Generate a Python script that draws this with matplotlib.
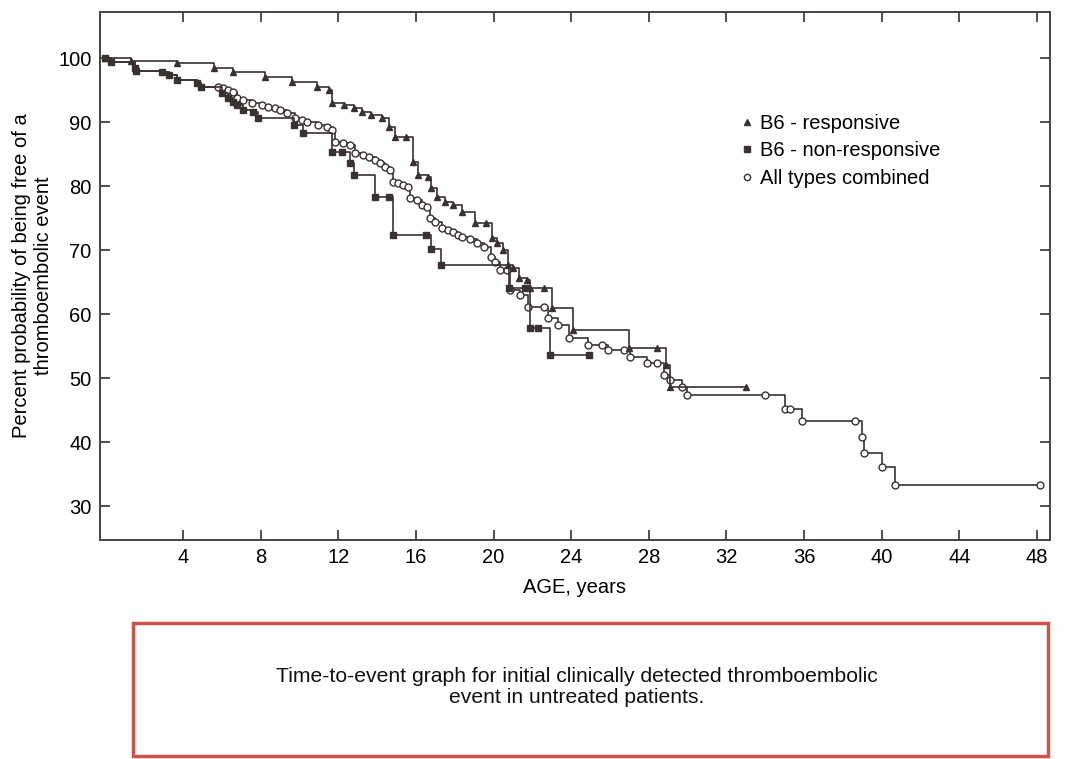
import matplotlib
matplotlib.use("Agg")
import matplotlib.pyplot as plt
from matplotlib.lines import Line2D
from matplotlib.patches import Rectangle

plt.rcParams["font.family"] = ["Liberation Sans", "DejaVu Sans"]

# B6 - responsive (triangles)
resp_age = [0, 1.3, 3.7, 5.6, 6.6, 8.2, 9.6, 10.9, 11.5, 11.7, 12.3, 12.8, 13.2,
            13.7, 14.25, 14.6, 14.9, 15.5, 15.85, 16.1, 16.6, 16.8, 17.1, 17.5,
            17.9, 18.4, 19.05, 19.6, 19.9, 20.2, 20.5, 20.75, 21.0, 21.3, 21.7,
            21.9, 22.6, 23.0, 24.1, 27.0, 28.4, 28.9, 29.1, 33.0]
resp_pct = [100, 99.5, 99.2, 98.4, 97.8, 97.0, 96.3, 95.5, 95.0, 93.0, 92.7, 92.2,
            91.6, 91.1, 90.6, 89.2, 87.7, 87.7, 83.75, 81.7, 81.4, 79.7, 78.3,
            77.5, 77.0, 75.9, 74.2, 74.2, 71.9, 71.1, 70.0, 67.7, 67.2, 65.6,
            65.3, 64.1, 64.1, 60.9, 57.5, 54.7, 54.7, 52.0, 48.6, 48.6]

# B6 - non-responsive (squares)
nonr_age = [0, 0.3, 1.5, 1.6, 2.9, 3.3, 3.7, 4.7, 4.9, 6.0, 6.3, 6.6, 6.8, 7.1,
            7.6, 7.85, 9.7, 10.2, 11.7, 12.2, 12.6, 12.8, 13.9, 14.6, 14.8, 16.5,
            16.8, 17.3, 20.8, 21.6, 21.9, 22.3, 22.9, 24.9]
nonr_pct = [100, 99.4, 98.4, 98.0, 97.8, 97.3, 96.6, 96.1, 95.5, 94.5, 93.75, 93.1,
            92.7, 91.9, 91.6, 90.6, 89.5, 88.3, 85.3, 85.3, 83.6, 81.7, 78.3, 78.3,
            72.3, 72.3, 70.2, 67.7, 64.1, 64.1, 57.8, 57.8, 53.6, 53.6]

# All types combined (open circles); the first few points lie under the squares
comb_age = [0, 0.3, 1.5, 1.6, 2.9, 3.3, 3.7, 4.7, 4.9, 5.8, 6.06, 6.3, 6.57, 6.78,
            7.09, 7.55, 8.07, 8.4, 8.74, 9.0, 9.36, 9.77, 10.13, 10.39, 10.95, 11.4,
            11.7, 11.83, 12.24, 12.6, 12.86, 13.27, 13.6, 13.9, 14.15, 14.4, 14.66,
            14.8, 15.07, 15.33, 15.6, 15.7, 16.05, 16.3, 16.57, 16.7, 16.98, 17.34,
            17.65, 17.9, 18.16, 18.4, 18.8, 19.14, 19.5, 19.85, 20.07, 20.33, 20.7,
            20.85, 21.36, 21.77, 22.6, 22.8, 23.3, 23.9, 24.86, 25.6, 25.9, 26.7,
            27.05, 27.9, 28.4, 28.8, 29.1, 29.7, 29.96, 34.0, 35.0, 35.3, 35.9,
            38.6, 39.0, 39.1, 40.0, 40.7, 48.15]
comb_pct = [100, 99.4, 98.4, 98.0, 97.8, 97.3, 96.6, 96.1, 95.5, 95.5, 95.3, 95.0,
            94.7, 93.75, 93.4, 93.0, 92.7, 92.3, 92.2, 91.9, 91.4, 90.6, 90.3, 90.0,
            89.5, 89.2, 88.75, 86.9, 86.7, 86.4, 85.2, 84.8, 84.5, 84.1, 83.6, 83.0,
            82.5, 80.6, 80.5, 80.2, 79.8, 78.1, 77.8, 77.0, 76.7, 75.0, 74.4, 73.4,
            73.1, 72.8, 72.3, 72.0, 71.7, 71.1, 70.5, 68.9, 68.1, 66.9, 66.9, 63.75,
            63.0, 61.1, 61.1, 59.4, 58.3, 56.25, 55.2, 55.2, 54.4, 54.4, 53.3, 52.3,
            52.3, 50.5, 49.7, 48.6, 47.3, 47.3, 45.2, 45.2, 43.3, 43.3, 40.8, 38.3,
            36.1, 33.3, 33.3]
comb_hidden = 9  # points shared with the non-responsive curve

x_ticks = [4, 8, 12, 16, 20, 24, 28, 32, 36, 40, 44, 48]
y_ticks = [30, 40, 50, 60, 70, 80, 90, 100]

line_col = "#3a3131"

fig = plt.figure(figsize=(10.67, 7.59), dpi=100)
ax = fig.add_axes([0.0937, 0.2885, 0.8903, 0.6955])

ax.plot(comb_age, comb_pct, drawstyle="steps-post", color=line_col, lw=1.2,
        marker="o", ms=5, mfc="white", mec=line_col, mew=1.0,
        markevery=list(range(comb_hidden, len(comb_age))), zorder=2)
ax.plot(resp_age, resp_pct, drawstyle="steps-post", color=line_col, lw=1.2,
        marker="^", ms=4.5, mfc=line_col, mec=line_col, zorder=3)
ax.plot(nonr_age, nonr_pct, drawstyle="steps-post", color=line_col, lw=1.2,
        marker="s", ms=4.5, mfc=line_col, mec=line_col, zorder=3)

ax.set_xlim(-0.28, 48.67)
ax.set_ylim(24.7, 107.2)
ax.set_xticks(x_ticks)
ax.set_yticks(y_ticks)
ax.tick_params(direction="in", length=7, width=1.2, color=line_col,
               labelsize=14.5, top=True, right=True, pad=6)
for s in ax.spines.values():
    s.set_color("#4a4040")
    s.set_linewidth(1.4)

ax.set_xlabel("AGE, years", fontsize=14.5, labelpad=8)
ax.set_ylabel("Percent probability of being free of a\nthromboembolic event",
              fontsize=14.5, labelpad=4)

handles = [
    Line2D([], [], ls="none", marker="^", ms=4.5, color=line_col),
    Line2D([], [], ls="none", marker="s", ms=4.5, color=line_col),
    Line2D([], [], ls="none", marker="o", ms=4.5, mfc="white", mec=line_col),
]
labels = ["B6 - responsive", "B6 - non-responsive", "All types combined"]
fig.legend(handles, labels, loc="upper left", bbox_to_anchor=(742 / 1067, 1 - 114 / 759),
           frameon=False, fontsize=14.5, handlelength=0.5, handletextpad=0.4,
           labelspacing=0.42, borderpad=0, borderaxespad=0)

# caption box
fig.patches.append(Rectangle((133 / 1067, 3 / 759), (1048 - 133) / 1067, (756 - 623) / 759,
                             transform=fig.transFigure, fill=False,
                             edgecolor="#d0524c", lw=2.5))
fig.text(577 / 1067, 1 - 687 / 759,
         "Time-to-event graph for initial clinically detected thromboembolic\nevent in untreated patients.",
         ha="center", va="center", fontsize=15.2, color="#111111", linespacing=1.12)

fig.savefig("out.png", dpi=100)
